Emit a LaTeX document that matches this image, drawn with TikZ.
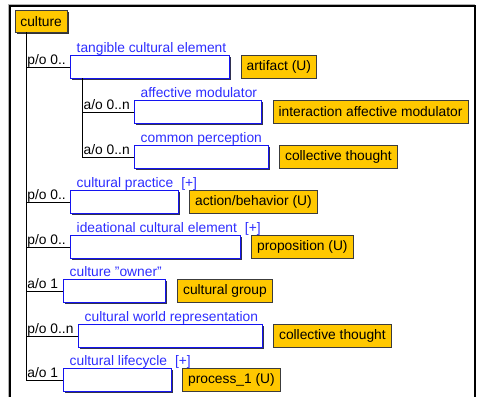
\documentclass[tikz,border=0pt]{standalone}
\usepackage{fontspec}
\setmainfont{Liberation Sans}
\usetikzlibrary{positioning,shadows}
\definecolor{conceptyellow}{RGB}{255,200,0}
\definecolor{conceptedge}{RGB}{60,60,60}
\definecolor{slotblue}{RGB}{20,20,240}
\definecolor{slotshade}{RGB}{50,50,80}
\definecolor{labelblue}{RGB}{45,45,255}
\tikzset{
  concept/.style={draw=conceptedge, fill=conceptyellow, minimum height=23pt,
    inner xsep=5.5pt, inner ysep=0pt, font=\fontsize{13.8}{16}\selectfont},
  slot/.style={draw=slotblue, fill=white, minimum height=23pt, inner sep=0pt,
    anchor=north west, drop shadow={shadow xshift=2pt, shadow yshift=-2pt,
    fill=slotshade, opacity=1}},
  slotname/.style={text=labelblue, inner sep=0pt, anchor=base west,
    xshift=6.5pt, yshift=2.5pt, font=\fontsize{13.8}{16}\selectfont},
  mult/.style={inner sep=0pt, anchor=base west, xshift=1.5pt, yshift=2pt,
    font=\fontsize{13.8}{16}\selectfont},
}
\newcommand{\plus}{\hspace{8pt}[+]}
\begin{document}
\begin{tikzpicture}[x=1pt, y=-1pt]
  \useasboundingbox (0,0) rectangle (477,397);
  % frame
  \draw[gray!60, line width=0.8pt] (8,397) -- (8,4) -- (475,4);
  \draw[line width=1.3pt] (10,397) |- (475,6) -- (475,397);
  % root
  \node[concept, anchor=north west, minimum width=50pt, minimum height=22pt,
    drop shadow={shadow xshift=2pt, shadow yshift=-2pt, fill=black!80, opacity=1}]
    (culture) at (14.7,10) {culture};
  % slots
  \node[slot, minimum width=159pt] (tce) at (70,55) {};
  \node[slot, minimum width=127pt] (am) at (134,100) {};
  \node[slot, minimum width=134pt] (cp) at (134,145) {};
  \node[slot, minimum width=108pt] (cpr) at (70,190) {};
  \node[slot, minimum width=170pt] (ice) at (70,235) {};
  \node[slot, minimum width=102pt] (co) at (63,279) {};
  \node[slot, minimum width=184pt] (cwr) at (78,324) {};
  \node[slot, minimum width=108pt] (cl) at (63,368) {};
  % slot names
  \node[slotname] at (tce.north west) {tangible cultural element};
  \node[slotname] at (am.north west) {affective modulator};
  \node[slotname] at (cp.north west) {common perception};
  \node[slotname] at (cpr.north west) {cultural practice\plus};
  \node[slotname] at (ice.north west) {ideational cultural element\plus};
  \node[slotname] at (co.north west) {culture "owner"};
  \node[slotname] at (cwr.north west) {cultural world representation};
  \node[slotname] at (cl.north west) {cultural lifecycle\plus};
  % fillers
  \node[concept, right=11.5pt of tce] (artifact) {artifact (U)};
  \node[concept, right=11.5pt of am] (iam) {interaction affective modulator};
  \node[concept, right=11pt of cp] (ct1) {collective thought};
  \node[concept, right=11pt of cpr] (ab) {action/behavior (U)};
  \node[concept, right=11pt of ice] (prop) {proposition (U)};
  \node[concept, right=12pt of co] (cg) {cultural group};
  \node[concept, right=11pt of cwr] (ct2) {collective thought};
  \node[concept, right=11pt of cl] (proc) {process\_1 (U)};
  % tree
  \coordinate (trunk) at ([xshift=11pt]culture.south west);
  \coordinate (subtrunk) at ([xshift=12pt]tce.south west);
  \foreach \s/\m in {tce/p\slash o 0.., cpr/p\slash o 0.., ice/p\slash o 0..,
      co/a\slash o 1, cwr/p\slash o 0..n, cl/a\slash o 1}{
    \draw (trunk) |- (\s.west);
    \node[mult] at (trunk |- \s.west) {\m};
  }
  \foreach \s in {am, cp}{
    \draw (subtrunk) |- (\s.west);
    \node[mult] at (subtrunk |- \s.west) {a\slash o 0..n};
  }
\end{tikzpicture}
\end{document}
